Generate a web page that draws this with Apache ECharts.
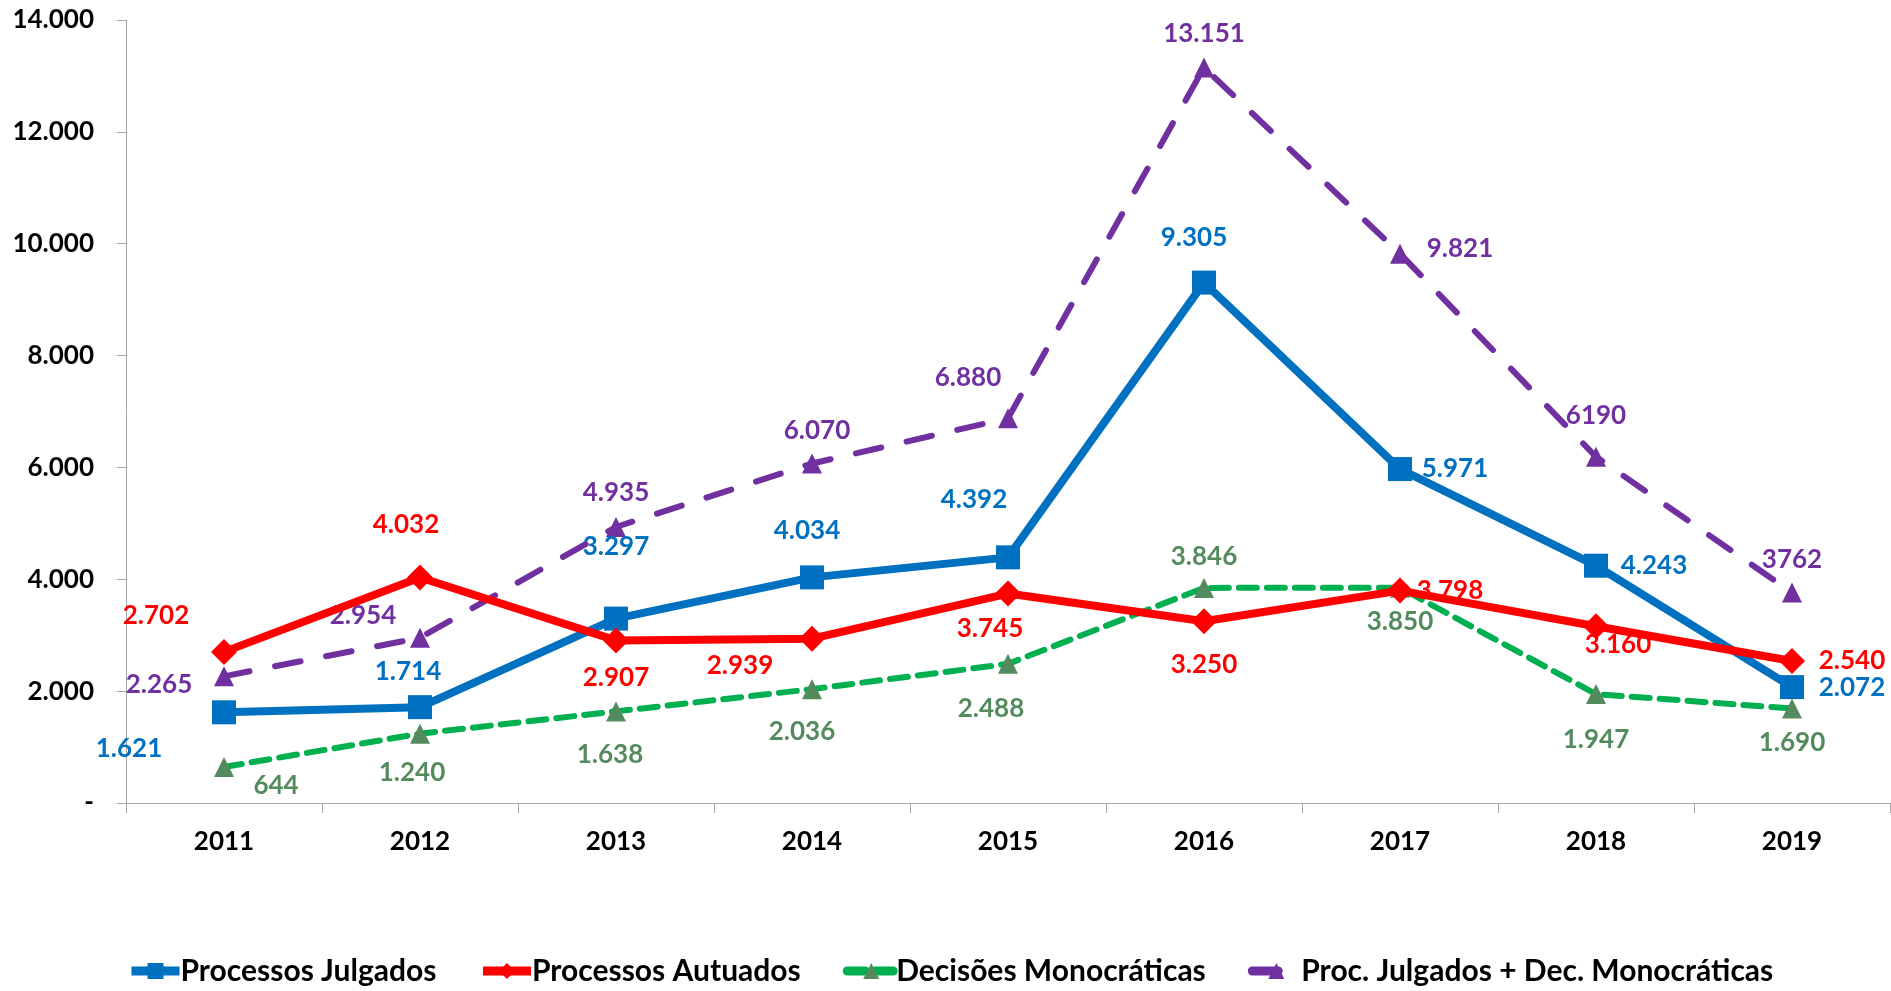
<!DOCTYPE html>
<html>
<head>
<meta charset="utf-8">
<style>
  html, body { margin: 0; padding: 0; background: #fff; }
  #chart { width: 1891px; height: 991px; }
</style>
<script src="https://cdn.jsdelivr.net/npm/echarts@6/dist/echarts.min.js"></script>
</head>
<body>
<div id="chart"></div>
<script>
// anos
var years = ['2011', '2012', '2013', '2014', '2015', '2016', '2017', '2018', '2019']

// valores das series
var julgados = [1621, 1714, 3297, 4034, 4392, 9305, 5971, 4243, 2072]
var autuados = [2702, 4032, 2907, 2939, 3745, 3250, 3798, 3160, 2540]
var monocraticas = [644, 1240, 1638, 2036, 2488, 3846, 3850, 1947, 1690]
var julgadosMaisDec = [2265, 2954, 4935, 6070, 6880, 13151, 9821, 6190, 3762]

// rotulos como aparecem no grafico
var julgadosMaisDecText = ['2.265', '2.954', '4.935', '6.070', '6.880', '13.151', '9.821', '6190', '3762']

// deslocamento dos rotulos (px) relativo ao ponto
var offJulgados = [[-95, 36], [-12, -36], [0, -72], [-5, -47], [-34, -58], [-10, -45], [55, 0], [58, 0], [60, 0]]
var offAutuados = [[-68, -36], [-14, -53], [0, 37], [-72, 27], [-18, 35], [0, 43], [50, 0], [22, 18], [60, 0]]
var offMono = [[52, 19], [-8, 39], [-6, 43], [-10, 42], [-17, 45], [0, -31], [0, 34], [0, 46], [0, 34]]
var offSoma = [[-65, 8], [-57, -22], [0, -34], [5, -33], [-40, -41], [0, -34], [60, -5], [0, -41], [0, -33]]

var FONT = 'Lato, "Open Sans", sans-serif'

function fmt(v) {
  return String(v).replace(/\B(?=(\d{3})+(?!\d))/g, '.')
}

function points(values, offsets, color, texts) {
  return values.map(function(v, i) {
    return {
      value: v,
      label: {
        show: true,
        position: 'inside',
        offset: offsets[i],
        color: color,
        formatter: texts ? texts[i] : fmt(v)
      }
    }
  })
}

var labelBase = {
  show: true,
  fontFamily: FONT,
  fontWeight: 'bold',
  fontSize: 26,
  align: 'center',
  verticalAlign: 'middle'
}

var chart = echarts.init(document.getElementById('chart'))
chart.setOption({
  animation: false,
  grid: {
    left: 126,
    right: 1,
    top: 20,
    bottom: 188
  },
  legend: {
    bottom: 0,
    left: 122,
    itemWidth: 48,
    itemHeight: 20,
    itemGap: 42,
    lineStyle: { width: 9 },
    textStyle: {
      fontFamily: FONT,
      fontWeight: 'bold',
      fontSize: 30,
      color: '#000',
      padding: [0, 0, 0, -4]
    },
    data: ['Processos Julgados', 'Processos Autuados', 'Decisões Monocráticas', 'Proc. Julgados + Dec. Monocráticas']
  },
  xAxis: {
    type: 'category',
    data: years,
    boundaryGap: true,
    axisLine: { lineStyle: { color: '#A6A6A6', width: 1 } },
    axisTick: { show: true, length: 10, lineStyle: { color: '#A6A6A6' } },
    axisLabel: {
      margin: 26,
      fontFamily: FONT,
      fontWeight: 'bold',
      fontSize: 26,
      color: '#000'
    }
  },
  yAxis: {
    type: 'value',
    min: 0,
    max: 14000,
    interval: 2000,
    splitLine: { show: false },
    axisLine: { show: true, lineStyle: { color: '#A6A6A6', width: 1 } },
    axisTick: { show: true, length: 9, lineStyle: { color: '#A6A6A6' } },
    axisLabel: {
      margin: 32,
      fontFamily: FONT,
      fontWeight: 'bold',
      fontSize: 26,
      color: '#000',
      formatter: function(v) { return v === 0 ? '-' : fmt(v) }
    }
  },
  series: [
    {
      name: 'Processos Julgados',
      type: 'line',
      z: 4,
      data: points(julgados, offJulgados, '#0070C0'),
      symbol: 'rect',
      symbolSize: 24,
      lineStyle: { color: '#0070C0', width: 8 },
      itemStyle: { color: '#0070C0' },
      label: labelBase
    },
    {
      name: 'Processos Autuados',
      type: 'line',
      z: 5,
      data: points(autuados, offAutuados, '#FF0000'),
      symbol: 'diamond',
      symbolSize: [26, 26],
      lineStyle: { color: '#FF0000', width: 8 },
      itemStyle: { color: '#FF0000' },
      label: labelBase
    },
    {
      name: 'Decisões Monocráticas',
      type: 'line',
      z: 3,
      data: points(monocraticas, offMono, '#548B5E'),
      symbol: 'triangle',
      symbolSize: 20,
      lineStyle: { color: '#00B050', width: 6, type: [18, 10], cap: 'round' },
      itemStyle: { color: '#548B5E' },
      label: labelBase
    },
    {
      name: 'Proc. Julgados + Dec. Monocráticas',
      type: 'line',
      z: 2,
      data: points(julgadosMaisDec, offSoma, '#7030A0', julgadosMaisDecText),
      symbol: 'triangle',
      symbolSize: 20,
      lineStyle: { color: '#7030A0', width: 6, type: [26, 26], cap: 'round' },
      itemStyle: { color: '#7030A0' },
      label: labelBase
    }
  ]
})
</script>
</body>
</html>
